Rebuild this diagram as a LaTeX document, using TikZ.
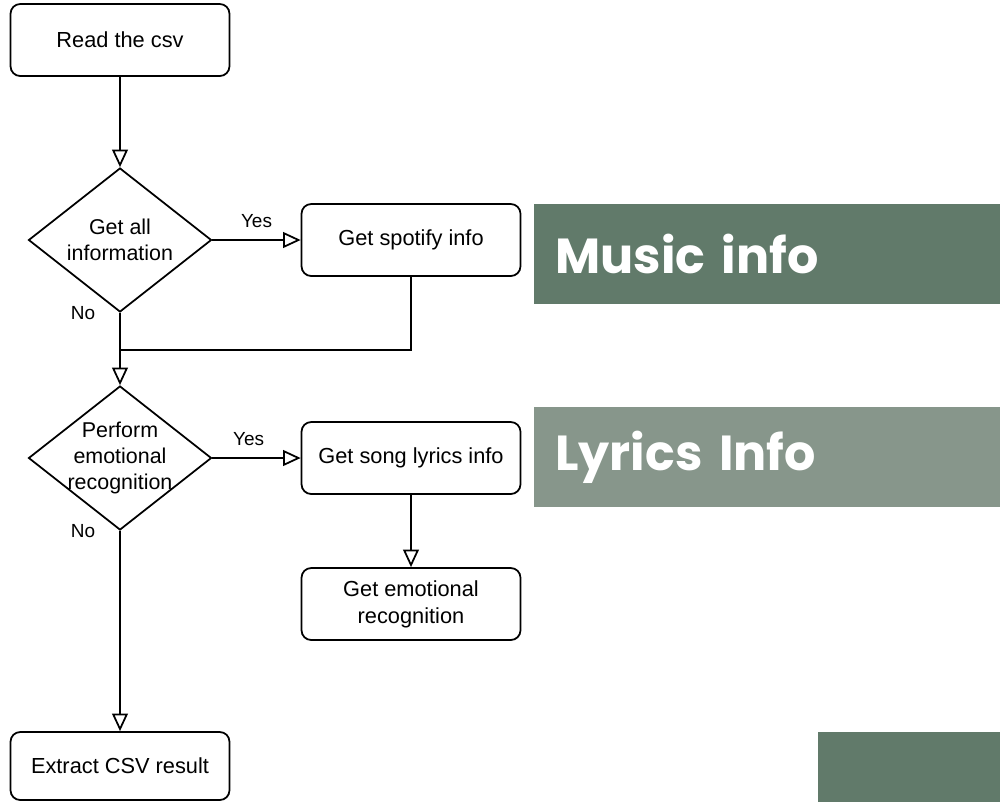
\documentclass[tikz,border=0pt]{standalone}
\usepackage{fontspec}
\setmainfont{Liberation Sans}
\newfontfamily\bannerfont{Poppins}
\usetikzlibrary{shapes.geometric}
\usetikzlibrary{arrows.meta}
\usepackage{xcolor}
\definecolor{musicgreen}{RGB}{97,122,106}
\definecolor{lyricsgreen}{RGB}{135,150,139}

\begin{document}
\begin{tikzpicture}[x=0.02cm, y=-0.02cm,
  box/.style={draw, rounded corners=5.5pt, line width=1pt, minimum width=4.38cm, minimum height=1.44cm, align=center, font=\fontsize{12.4}{15.5}\selectfont},
  choice/.style={draw, diamond, line width=1pt, inner sep=-7pt, aspect=1.27, minimum width=3.66cm, minimum height=2.88cm, align=center, font=\fontsize{12.2}{15}\selectfont},
  flow/.style={line width=1pt, -{Triangle[open, length=10pt, width=9pt, fill=white]}},
  answer/.style={font=\fontsize{10.8}{13}\selectfont},
  banner/.style={anchor=north west, minimum width=9.32cm, minimum height=2cm, inner xsep=0.42cm, text width=8.48cm, align=left, text=white, font=\bannerfont\bfseries\fontsize{28}{34}\selectfont}]

\useasboundingbox (0,0) rectangle (1000,802);

% flow chart
\node[box] (read) at (120,40) {Read the csv};
\node[choice] (allinfo) at (120,240) {Get all\\information};
\node[box] (spotify) at (411,240) {Get spotify info};
\node[choice] (emotion) at (120,458) {Perform\\emotional\\recognition};
\node[box] (lyrics) at (411,458) {Get song lyrics info};
\node[box] (recog) at (411,604) {Get emotional\\recognition};
\node[box, minimum height=1.36cm] (extract) at (120,766) {Extract CSV result};
\coordinate (merge) at (120,350);

\node[answer] (no1) at (83,313) {No};
\node[answer] (no2) at (83,531) {No};

\draw[flow] (read) -- (allinfo);
\draw[flow] (allinfo) -- node[answer, above=3pt] {Yes} (spotify);
\draw[line width=1pt] (spotify.south) |- (merge);
\draw[flow] (allinfo) -- (emotion);
\draw[flow] (emotion) -- node[answer, above=3pt, pos=0.41] {Yes} (lyrics);
\draw[flow] (lyrics) -- (recog);
\draw[flow] (emotion) -- (extract);

% banners
\node[banner, fill=musicgreen] (music) at (534,204) {Music info};
\node[banner, fill=lyricsgreen] (lyricsinfo) at (534,407) {Lyrics Info};
\fill[musicgreen] (818,732) rectangle (1000,802);

\end{tikzpicture}
\end{document}
